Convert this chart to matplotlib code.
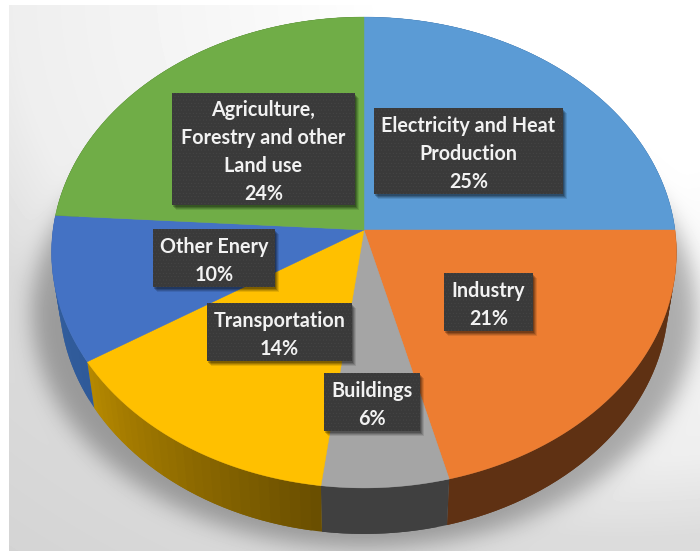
"""Emissions by sector as a tilted Office-style 3D pie with dark callouts."""
import matplotlib
matplotlib.use("Agg")
import matplotlib.pyplot as plt
import numpy as np
from matplotlib.colors import to_rgb
from matplotlib.patches import Rectangle
from matplotlib.path import Path

labels = [
    "Electricity and Heat\nProduction",
    "Industry",
    "Buildings",
    "Transportation",
    "Other Enery",
    "Agriculture,\nForestry and other\nLand use",
]
shares = [25, 21, 6, 14, 10, 24]
top_colors = ["#5b9bd5", "#ed7d31", "#a5a5a5", "#ffc000", "#4472c4", "#70ad47"]
wall_start = ["#2f5a8a", "#5f3113", "#404040", "#6a4f00", "#2f5a99", "#3f6428"]
wall_end = ["#2f5a8a", "#5f3113", "#404040", "#b58800", "#35609f", "#3f6428"]

# label boxes as left, top, right, bottom in pixels
boxes = [
    (374, 108, 563, 194),
    (444, 273, 533, 331),
    (324, 373, 420, 431),
    (207, 303, 352, 361),
    (153, 229, 275, 287),
    (172, 93, 355, 205),
]

W, H = 700, 556
CX, CY = 364, 230
RX, RY, PERSP = 311, 233.3, 0.0955
DEPTH, WALL_SCALE = 46, 0.975


def project(frac):
    # frac runs clockwise from twelve o'clock, the far side is foreshortened
    ang = 2 * np.pi * np.asarray(frac)
    u, v = np.sin(ang), np.cos(ang)
    d = 1 + PERSP * v
    return CX + RX * u / d, CY - RY * v / d


def lower(x, y):
    return CX + WALL_SCALE * (x - CX), y + DEPTH


def blur(img, sigma):
    r = int(3 * sigma)
    k = np.exp(-0.5 * (np.arange(-r, r + 1) / sigma) ** 2)
    k /= k.sum()
    pad = np.pad(img, r, mode="edge")
    pad = np.apply_along_axis(lambda c: np.convolve(c, k, mode="same"), 0, pad)
    pad = np.apply_along_axis(lambda c: np.convolve(c, k, mode="same"), 1, pad)
    return pad[r:-r, r:-r]


def background():
    yy, xx = np.mgrid[0:H, 0:W]
    d = np.hypot(xx - 620, (yy + 10) * 1.3)
    bg = np.interp(d, [0, 250, 320, 610, 710, 950], [255, 254, 250, 238, 220, 212])

    pts = np.column_stack([xx.ravel() + 0.5, yy.ravel() + 0.5])
    xr, yr = project(np.linspace(0, 1, 240))
    xs, ys = lower(xr, yr)

    # soft contact shadow, wider than the disc and dropped just below it
    outline = np.column_stack([CX + (xs - CX) * 1.09, ys + 14])
    shadow = Path(outline).contains_points(pts).reshape(H, W)
    bg *= 1 - 0.3 * blur(shadow.astype(float), 11)

    # the panel stops short of the image edge
    mask = (xx >= 9) & (yy >= 5) & (yy < 551)
    bg = np.where(mask, bg, 255)
    return np.clip(bg, 0, 255)


fig = plt.figure(figsize=(W / 100, H / 100), dpi=100)
ax = fig.add_axes([0, 0, 1, 1])
ax.imshow(background(), cmap="gray", vmin=0, vmax=255,
          extent=(0, W, H, 0), zorder=0, interpolation="bilinear")

edges = np.cumsum([0] + shares) / sum(shares)

# side wall first, in overlapping strips so the shading can vary along the rim
for i in range(len(shares)):
    fr = np.linspace(edges[i], edges[i + 1], shares[i] * 2 + 1)
    x0, y0 = project(fr)
    x1, y1 = lower(x0, y0)
    c0, c1 = np.array(to_rgb(wall_start[i])), np.array(to_rgb(wall_end[i]))
    n = len(fr) - 1
    for j in range(n):
        k = min(j + 2, n)
        col = c0 + (c1 - c0) * j / (n - 1)
        ax.fill([x0[j], *x0[j + 1:k + 1], *x1[j:k + 1][::-1]],
                [y0[j], *y0[j + 1:k + 1], *y1[j:k + 1][::-1]],
                fc=col, ec="none", zorder=2)

for i in range(len(shares)):
    x, y = project(np.linspace(edges[i], edges[i + 1], shares[i] * 4 + 2))
    ax.fill(np.r_[CX, x], np.r_[CY, y], fc=top_colors[i], ec=top_colors[i],
            lw=0.3, zorder=3)

plt.rcParams["hatch.linewidth"] = 0.3
for name, share, (l, t, r, b) in zip(labels, shares, boxes):
    # stacked translucent rectangles give the callout a soft drop shadow
    for off, a in [(5, 0.10), (4, 0.14), (3, 0.18), (2, 0.22)]:
        ax.add_patch(Rectangle((l + off - 1, t + off), r - l, b - t,
                               fc="black", ec="none", alpha=a, zorder=4))
    ax.add_patch(Rectangle((l, t), r - l, b - t, fc="#3a3a3a", ec="#474747",
                           hatch=".....", lw=0, zorder=5))
    ax.text((l + r) / 2, (t + b) / 2 + 3, f"{name}\n{share}%", color="#f2f2f2",
            family="Lato", weight="bold", fontsize=14.2,
            ha="center", va="center", linespacing=1.5, zorder=6)

ax.set_xlim(0, W)
ax.set_ylim(H, 0)
ax.axis("off")
fig.savefig("out.png", dpi=100)
plt.close(fig)
